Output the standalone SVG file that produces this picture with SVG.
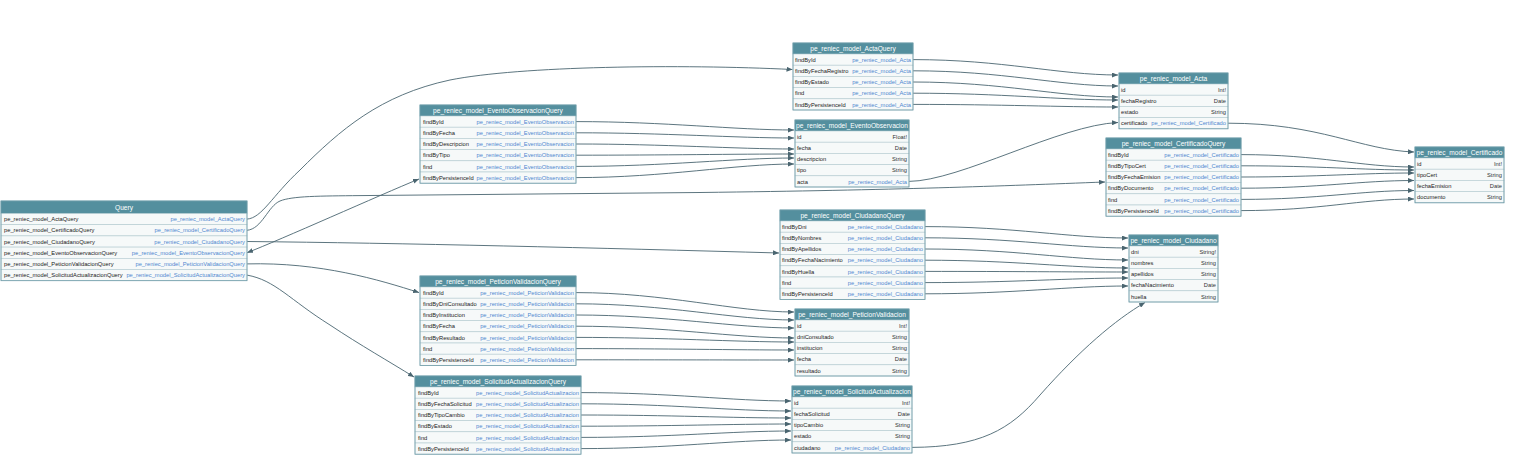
<svg xmlns="http://www.w3.org/2000/svg" width="1524" height="475" viewBox="0 0 1524 475">
<style>
.bg{fill:#ffffff}
.hd{fill:#548f9e;stroke:#548f9e;stroke-width:.6}
.row{fill:#f6f9f9;stroke:#b3cad0;stroke-width:.6}
.frame{fill:none;stroke:#6e9ca8;stroke-width:.8}
.ht{font-family:"Liberation Sans",Arial,sans-serif;font-size:6.6px;fill:#ffffff;text-anchor:middle}
.ft{font-family:"Liberation Sans",Arial,sans-serif;font-size:5.75px;fill:#222222}
.lk{font-family:"Liberation Sans",Arial,sans-serif;font-size:5.75px;fill:#4f87d0;text-anchor:end}
.ty{font-family:"Liberation Sans",Arial,sans-serif;font-size:5.75px;fill:#333333;text-anchor:end}
.edge{fill:none;stroke:#4a6570;stroke-width:.9;marker-end:url(#ah)}
</style>
<defs>
<marker id="ah" markerWidth="6" markerHeight="5" refX="6" refY="2.5" orient="auto" markerUnits="userSpaceOnUse"><path d="M0,0 L6,2.5 L0,5 z" fill="#4a6570"/></marker>
<marker id="ahs" markerWidth="6" markerHeight="5" refX="6" refY="2.5" orient="auto-start-reverse" markerUnits="userSpaceOnUse"><path d="M0,0 L6,2.5 L0,5 z" fill="#4a6570"/></marker>
</defs>
<rect class="bg" x="0" y="0" width="1524" height="475"/>

<g id="connectors">
<path class="edge" d="M247,219.1 C262,218 272,196 300,170 C340,130 380,95 450,80 C520,66 680,64 792.5,69.5"/>
<path class="edge" d="M247,230.3 C262,229 268,206 280,201 C292,196 320,196 360,195.6 L700,192.5 C900,190 1000,186 1105,182"/>
<path class="edge" d="M247,241.5 C400,243 600,248 779,253"/>
<path class="edge" style="marker-start:url(#ahs)" d="M247,252.7 C280,240 380,195 419,179"/>
<path class="edge" d="M247,263.9 C320,262 380,280 419,292.6"/>
<path class="edge" d="M247,275.1 C275,280 290,300 330,325 C360,345 390,362 414,377"/>

<path class="edge" d="M576,121.6 C666,121.6 734,130 794,130"/>
<path class="edge" d="M576,132.8 C666,132.8 734,138 794,138"/>
<path class="edge" d="M576,144 C666,144 734,149 794,149"/>
<path class="edge" d="M576,155.2 C666,155.2 734,154 794,154"/>
<path class="edge" d="M576,166.4 C666,166.4 734,158 794,158"/>
<path class="edge" d="M576,177.6 C666,177.6 734,164 794,164"/>

<path class="edge" d="M913,59.6 C1003,59.6 1058,75 1118,75"/>
<path class="edge" d="M913,70.8 C1003,70.8 1058,86 1118,86"/>
<path class="edge" d="M913,82 C1003,82 1058,97 1118,97"/>
<path class="edge" d="M913,93.2 C1003,93.2 1058,100 1118,100"/>
<path class="edge" d="M913,104.4 C1003,104.4 1058,107 1118,107"/>
<path class="edge" d="M909,181.4 C960,181 1060,125 1118,122.5"/>

<path class="edge" d="M1228,123.2 C1320,123.2 1360,150 1414,152"/>
<path class="edge" d="M1241,154.6 C1320,154.6 1360,167 1414,167"/>
<path class="edge" d="M1241,165.8 C1320,165.8 1360,170 1414,170"/>
<path class="edge" d="M1241,177 C1320,177 1360,173 1414,173"/>
<path class="edge" d="M1241,188.2 C1320,188.2 1360,180.5 1414,180.5"/>
<path class="edge" d="M1241,199.4 C1320,199.4 1360,190.5 1414,190.5"/>
<path class="edge" d="M1241,210.6 C1320,210.6 1360,199 1414,199"/>

<path class="edge" d="M925,226.6 C1015,226.6 1068,238 1128,238"/>
<path class="edge" d="M925,237.8 C1015,237.8 1068,248 1128,248"/>
<path class="edge" d="M925,249 C1015,249 1068,260 1128,260"/>
<path class="edge" d="M925,260.2 C1015,260.2 1068,268 1128,268"/>
<path class="edge" d="M925,271.4 C1015,271.4 1068,272 1128,272"/>
<path class="edge" d="M925,282.6 C1015,282.6 1068,278 1128,278"/>
<path class="edge" d="M925,293.8 C1015,293.8 1068,286 1128,286"/>

<path class="edge" d="M576,292.6 C666,292.6 734,312 794,312"/>
<path class="edge" d="M576,303.8 C666,303.8 734,320 794,320"/>
<path class="edge" d="M576,315 C666,315 734,328 794,328"/>
<path class="edge" d="M576,326.2 C666,326.2 734,338 794,338"/>
<path class="edge" d="M576,337.4 C666,337.4 734,342 794,342"/>
<path class="edge" d="M576,348.6 C666,348.6 734,350 794,350"/>
<path class="edge" d="M576,359.8 C666,359.8 734,360 794,360"/>

<path class="edge" d="M581,392.6 C671,392.6 731,401 791,401"/>
<path class="edge" d="M581,403.8 C671,403.8 731,411 791,411"/>
<path class="edge" d="M581,415 C671,415 731,418 791,418"/>
<path class="edge" d="M581,426.2 C671,426.2 731,424 791,424"/>
<path class="edge" d="M581,437.4 C671,437.4 731,431 791,431"/>
<path class="edge" d="M581,448.6 C671,448.6 731,440 791,440"/>

<path class="edge" d="M912,447.4 C980,447 1010,430 1040,395 C1080,350 1115,320 1145,302.5"/>
</g>

<g id="Query" transform="translate(1,201)">
<rect class="hd" x="0" y="0" width="246" height="12.5"/>
<text class="ht" x="123" y="9">Query</text>
<rect class="row" x="0" y="12.5" width="246" height="11.2"/>
<rect class="row" x="0" y="23.7" width="246" height="11.2"/>
<rect class="row" x="0" y="34.9" width="246" height="11.2"/>
<rect class="row" x="0" y="46.1" width="246" height="11.2"/>
<rect class="row" x="0" y="57.3" width="246" height="11.2"/>
<rect class="row" x="0" y="68.5" width="246" height="11.2"/>
<text class="ft" x="3" y="20.2">pe_reniec_model_ActaQuery</text><text class="lk" x="244" y="20.2">pe_reniec_model_ActaQuery</text>
<text class="ft" x="3" y="31.4">pe_reniec_model_CertificadoQuery</text><text class="lk" x="244" y="31.4">pe_reniec_model_CertificadoQuery</text>
<text class="ft" x="3" y="42.6">pe_reniec_model_CiudadanoQuery</text><text class="lk" x="244" y="42.6">pe_reniec_model_CiudadanoQuery</text>
<text class="ft" x="3" y="53.8">pe_reniec_model_EventoObservacionQuery</text><text class="lk" x="244" y="53.8">pe_reniec_model_EventoObservacionQuery</text>
<text class="ft" x="3" y="65">pe_reniec_model_PeticionValidacionQuery</text><text class="lk" x="244" y="65">pe_reniec_model_PeticionValidacionQuery</text>
<text class="ft" x="3" y="76.2">pe_reniec_model_SolicitudActualizacionQuery</text><text class="lk" x="244" y="76.2">pe_reniec_model_SolicitudActualizacionQuery</text>
<rect class="frame" x="0" y="0" width="246" height="79.7"/>
</g>

<g id="EventoObservacionQuery" transform="translate(420,105)">
<rect class="hd" x="0" y="0" width="156" height="11"/>
<text class="ht" x="78" y="8.2">pe_reniec_model_EventoObservacionQuery</text>
<rect class="row" x="0" y="11" width="156" height="11.2"/>
<rect class="row" x="0" y="22.2" width="156" height="11.2"/>
<rect class="row" x="0" y="33.4" width="156" height="11.2"/>
<rect class="row" x="0" y="44.6" width="156" height="11.2"/>
<rect class="row" x="0" y="55.8" width="156" height="11.2"/>
<rect class="row" x="0" y="67" width="156" height="11.2"/>
<text class="ft" x="3" y="18.7">findById</text><text class="lk" x="154" y="18.7">pe_reniec_model_EventoObservacion</text>
<text class="ft" x="3" y="29.9">findByFecha</text><text class="lk" x="154" y="29.9">pe_reniec_model_EventoObservacion</text>
<text class="ft" x="3" y="41.1">findByDescripcion</text><text class="lk" x="154" y="41.1">pe_reniec_model_EventoObservacion</text>
<text class="ft" x="3" y="52.3">findByTipo</text><text class="lk" x="154" y="52.3">pe_reniec_model_EventoObservacion</text>
<text class="ft" x="3" y="63.5">find</text><text class="lk" x="154" y="63.5">pe_reniec_model_EventoObservacion</text>
<text class="ft" x="3" y="74.7">findByPersistenceId</text><text class="lk" x="154" y="74.7">pe_reniec_model_EventoObservacion</text>
<rect class="frame" x="0" y="0" width="156" height="78.2"/>
</g>

<g id="ActaQuery" transform="translate(793,43)">
<rect class="hd" x="0" y="0" width="120" height="11"/>
<text class="ht" x="60" y="8.2">pe_reniec_model_ActaQuery</text>
<rect class="row" x="0" y="11" width="120" height="11.2"/>
<rect class="row" x="0" y="22.2" width="120" height="11.2"/>
<rect class="row" x="0" y="33.4" width="120" height="11.2"/>
<rect class="row" x="0" y="44.6" width="120" height="11.2"/>
<rect class="row" x="0" y="55.8" width="120" height="11.2"/>
<text class="ft" x="2" y="18.7">findById</text><text class="lk" x="118" y="18.7">pe_reniec_model_Acta</text>
<text class="ft" x="2" y="29.9">findByFechaRegistro</text><text class="lk" x="118" y="29.9">pe_reniec_model_Acta</text>
<text class="ft" x="2" y="41.1">findByEstado</text><text class="lk" x="118" y="41.1">pe_reniec_model_Acta</text>
<text class="ft" x="2" y="52.3">find</text><text class="lk" x="118" y="52.3">pe_reniec_model_Acta</text>
<text class="ft" x="2" y="63.5">findByPersistenceId</text><text class="lk" x="118" y="63.5">pe_reniec_model_Acta</text>
<rect class="frame" x="0" y="0" width="120" height="67"/>
</g>

<g id="EventoObservacion" transform="translate(795,120)">
<rect class="hd" x="0" y="0" width="114" height="11"/>
<text class="ht" x="57" y="8.2">pe_reniec_model_EventoObservacion</text>
<rect class="row" x="0" y="11" width="114" height="11.2"/>
<rect class="row" x="0" y="22.2" width="114" height="11.2"/>
<rect class="row" x="0" y="33.4" width="114" height="11.2"/>
<rect class="row" x="0" y="44.6" width="114" height="11.2"/>
<rect class="row" x="0" y="55.8" width="114" height="11.2"/>
<text class="ft" x="2" y="18.7">id</text><text class="ty" x="112" y="18.7">Float!</text>
<text class="ft" x="2" y="29.9">fecha</text><text class="ty" x="112" y="29.9">Date</text>
<text class="ft" x="2" y="41.1">descripcion</text><text class="ty" x="112" y="41.1">String</text>
<text class="ft" x="2" y="52.3">tipo</text><text class="ty" x="112" y="52.3">String</text>
<text class="ft" x="2" y="63.5">acta</text><text class="lk" x="112" y="63.5">pe_reniec_model_Acta</text>
<rect class="frame" x="0" y="0" width="114" height="67"/>
</g>

<g id="Acta" transform="translate(1119,73)">
<rect class="hd" x="0" y="0" width="109" height="11"/>
<text class="ht" x="54.5" y="8.2">pe_reniec_model_Acta</text>
<rect class="row" x="0" y="11" width="109" height="11.2"/>
<rect class="row" x="0" y="22.2" width="109" height="11.2"/>
<rect class="row" x="0" y="33.4" width="109" height="11.2"/>
<rect class="row" x="0" y="44.6" width="109" height="11.2"/>
<text class="ft" x="2" y="18.7">id</text><text class="ty" x="107" y="18.7">Int!</text>
<text class="ft" x="2" y="29.9">fechaRegistro</text><text class="ty" x="107" y="29.9">Date</text>
<text class="ft" x="2" y="41.1">estado</text><text class="ty" x="107" y="41.1">String</text>
<text class="ft" x="2" y="52.3">certificado</text><text class="lk" x="107" y="52.3">pe_reniec_model_Certificado</text>
<rect class="frame" x="0" y="0" width="109" height="55.8"/>
</g>

<g id="CertificadoQuery" transform="translate(1106,138)">
<rect class="hd" x="0" y="0" width="135" height="11"/>
<text class="ht" x="67.5" y="8.2">pe_reniec_model_CertificadoQuery</text>
<rect class="row" x="0" y="11" width="135" height="11.2"/>
<rect class="row" x="0" y="22.2" width="135" height="11.2"/>
<rect class="row" x="0" y="33.4" width="135" height="11.2"/>
<rect class="row" x="0" y="44.6" width="135" height="11.2"/>
<rect class="row" x="0" y="55.8" width="135" height="11.2"/>
<rect class="row" x="0" y="67" width="135" height="11.2"/>
<text class="ft" x="2" y="18.7">findById</text><text class="lk" x="133" y="18.7">pe_reniec_model_Certificado</text>
<text class="ft" x="2" y="29.9">findByTipoCert</text><text class="lk" x="133" y="29.9">pe_reniec_model_Certificado</text>
<text class="ft" x="2" y="41.1">findByFechaEmision</text><text class="lk" x="133" y="41.1">pe_reniec_model_Certificado</text>
<text class="ft" x="2" y="52.3">findByDocumento</text><text class="lk" x="133" y="52.3">pe_reniec_model_Certificado</text>
<text class="ft" x="2" y="63.5">find</text><text class="lk" x="133" y="63.5">pe_reniec_model_Certificado</text>
<text class="ft" x="2" y="74.7">findByPersistenceId</text><text class="lk" x="133" y="74.7">pe_reniec_model_Certificado</text>
<rect class="frame" x="0" y="0" width="135" height="78.2"/>
</g>

<g id="Certificado" transform="translate(1415,147)">
<rect class="hd" x="0" y="0" width="89" height="11"/>
<text class="ht" x="44.5" y="8.2">pe_reniec_model_Certificado</text>
<rect class="row" x="0" y="11" width="89" height="11.2"/>
<rect class="row" x="0" y="22.2" width="89" height="11.2"/>
<rect class="row" x="0" y="33.4" width="89" height="11.2"/>
<rect class="row" x="0" y="44.6" width="89" height="11.2"/>
<text class="ft" x="2" y="18.7">id</text><text class="ty" x="87" y="18.7">Int!</text>
<text class="ft" x="2" y="29.9">tipoCert</text><text class="ty" x="87" y="29.9">String</text>
<text class="ft" x="2" y="41.1">fechaEmision</text><text class="ty" x="87" y="41.1">Date</text>
<text class="ft" x="2" y="52.3">documento</text><text class="ty" x="87" y="52.3">String</text>
<rect class="frame" x="0" y="0" width="89" height="55.8"/>
</g>

<g id="CiudadanoQuery" transform="translate(780,210)">
<rect class="hd" x="0" y="0" width="145" height="11"/>
<text class="ht" x="72.5" y="8.2">pe_reniec_model_CiudadanoQuery</text>
<rect class="row" x="0" y="11" width="145" height="11.2"/>
<rect class="row" x="0" y="22.2" width="145" height="11.2"/>
<rect class="row" x="0" y="33.4" width="145" height="11.2"/>
<rect class="row" x="0" y="44.6" width="145" height="11.2"/>
<rect class="row" x="0" y="55.8" width="145" height="11.2"/>
<rect class="row" x="0" y="67" width="145" height="11.2"/>
<rect class="row" x="0" y="78.2" width="145" height="11.2"/>
<text class="ft" x="2" y="18.7">findByDni</text><text class="lk" x="143" y="18.7">pe_reniec_model_Ciudadano</text>
<text class="ft" x="2" y="29.9">findByNombres</text><text class="lk" x="143" y="29.9">pe_reniec_model_Ciudadano</text>
<text class="ft" x="2" y="41.1">findByApellidos</text><text class="lk" x="143" y="41.1">pe_reniec_model_Ciudadano</text>
<text class="ft" x="2" y="52.3">findByFechaNacimiento</text><text class="lk" x="143" y="52.3">pe_reniec_model_Ciudadano</text>
<text class="ft" x="2" y="63.5">findByHuella</text><text class="lk" x="143" y="63.5">pe_reniec_model_Ciudadano</text>
<text class="ft" x="2" y="74.7">find</text><text class="lk" x="143" y="74.7">pe_reniec_model_Ciudadano</text>
<text class="ft" x="2" y="85.9">findByPersistenceId</text><text class="lk" x="143" y="85.9">pe_reniec_model_Ciudadano</text>
<rect class="frame" x="0" y="0" width="145" height="89.4"/>
</g>

<g id="Ciudadano" transform="translate(1129,235)">
<rect class="hd" x="0" y="0" width="89" height="11"/>
<text class="ht" x="44.5" y="8.2">pe_reniec_model_Ciudadano</text>
<rect class="row" x="0" y="11" width="89" height="11.2"/>
<rect class="row" x="0" y="22.2" width="89" height="11.2"/>
<rect class="row" x="0" y="33.4" width="89" height="11.2"/>
<rect class="row" x="0" y="44.6" width="89" height="11.2"/>
<rect class="row" x="0" y="55.8" width="89" height="11.2"/>
<text class="ft" x="2" y="18.7">dni</text><text class="ty" x="87" y="18.7">String!</text>
<text class="ft" x="2" y="29.9">nombres</text><text class="ty" x="87" y="29.9">String</text>
<text class="ft" x="2" y="41.1">apellidos</text><text class="ty" x="87" y="41.1">String</text>
<text class="ft" x="2" y="52.3">fechaNacimiento</text><text class="ty" x="87" y="52.3">Date</text>
<text class="ft" x="2" y="63.5">huella</text><text class="ty" x="87" y="63.5">String</text>
<rect class="frame" x="0" y="0" width="89" height="67"/>
</g>

<g id="PeticionValidacionQuery" transform="translate(420,276)">
<rect class="hd" x="0" y="0" width="156" height="11"/>
<text class="ht" x="78" y="8.2">pe_reniec_model_PeticionValidacionQuery</text>
<rect class="row" x="0" y="11" width="156" height="11.2"/>
<rect class="row" x="0" y="22.2" width="156" height="11.2"/>
<rect class="row" x="0" y="33.4" width="156" height="11.2"/>
<rect class="row" x="0" y="44.6" width="156" height="11.2"/>
<rect class="row" x="0" y="55.8" width="156" height="11.2"/>
<rect class="row" x="0" y="67" width="156" height="11.2"/>
<rect class="row" x="0" y="78.2" width="156" height="11.2"/>
<text class="ft" x="3" y="18.7">findById</text><text class="lk" x="154" y="18.7">pe_reniec_model_PeticionValidacion</text>
<text class="ft" x="3" y="29.9">findByDniConsultado</text><text class="lk" x="154" y="29.9">pe_reniec_model_PeticionValidacion</text>
<text class="ft" x="3" y="41.1">findByInstitucion</text><text class="lk" x="154" y="41.1">pe_reniec_model_PeticionValidacion</text>
<text class="ft" x="3" y="52.3">findByFecha</text><text class="lk" x="154" y="52.3">pe_reniec_model_PeticionValidacion</text>
<text class="ft" x="3" y="63.5">findByResultado</text><text class="lk" x="154" y="63.5">pe_reniec_model_PeticionValidacion</text>
<text class="ft" x="3" y="74.7">find</text><text class="lk" x="154" y="74.7">pe_reniec_model_PeticionValidacion</text>
<text class="ft" x="3" y="85.9">findByPersistenceId</text><text class="lk" x="154" y="85.9">pe_reniec_model_PeticionValidacion</text>
<rect class="frame" x="0" y="0" width="156" height="89.4"/>
</g>

<g id="PeticionValidacion" transform="translate(795,309)">
<rect class="hd" x="0" y="0" width="114" height="11"/>
<text class="ht" x="57" y="8.2">pe_reniec_model_PeticionValidacion</text>
<rect class="row" x="0" y="11" width="114" height="11.2"/>
<rect class="row" x="0" y="22.2" width="114" height="11.2"/>
<rect class="row" x="0" y="33.4" width="114" height="11.2"/>
<rect class="row" x="0" y="44.6" width="114" height="11.2"/>
<rect class="row" x="0" y="55.8" width="114" height="11.2"/>
<text class="ft" x="2" y="18.7">id</text><text class="ty" x="112" y="18.7">Int!</text>
<text class="ft" x="2" y="29.9">dniConsultado</text><text class="ty" x="112" y="29.9">String</text>
<text class="ft" x="2" y="41.1">institucion</text><text class="ty" x="112" y="41.1">String</text>
<text class="ft" x="2" y="52.3">fecha</text><text class="ty" x="112" y="52.3">Date</text>
<text class="ft" x="2" y="63.5">resultado</text><text class="ty" x="112" y="63.5">String</text>
<rect class="frame" x="0" y="0" width="114" height="67"/>
</g>

<g id="SolicitudActualizacionQuery" transform="translate(415,376)">
<rect class="hd" x="0" y="0" width="166" height="11"/>
<text class="ht" x="83" y="8.2">pe_reniec_model_SolicitudActualizacionQuery</text>
<rect class="row" x="0" y="11" width="166" height="11.2"/>
<rect class="row" x="0" y="22.2" width="166" height="11.2"/>
<rect class="row" x="0" y="33.4" width="166" height="11.2"/>
<rect class="row" x="0" y="44.6" width="166" height="11.2"/>
<rect class="row" x="0" y="55.8" width="166" height="11.2"/>
<rect class="row" x="0" y="67" width="166" height="11.2"/>
<text class="ft" x="3" y="18.7">findById</text><text class="lk" x="164" y="18.7">pe_reniec_model_SolicitudActualizacion</text>
<text class="ft" x="3" y="29.9">findByFechaSolicitud</text><text class="lk" x="164" y="29.9">pe_reniec_model_SolicitudActualizacion</text>
<text class="ft" x="3" y="41.1">findByTipoCambio</text><text class="lk" x="164" y="41.1">pe_reniec_model_SolicitudActualizacion</text>
<text class="ft" x="3" y="52.3">findByEstado</text><text class="lk" x="164" y="52.3">pe_reniec_model_SolicitudActualizacion</text>
<text class="ft" x="3" y="63.5">find</text><text class="lk" x="164" y="63.5">pe_reniec_model_SolicitudActualizacion</text>
<text class="ft" x="3" y="74.7">findByPersistenceId</text><text class="lk" x="164" y="74.7">pe_reniec_model_SolicitudActualizacion</text>
<rect class="frame" x="0" y="0" width="166" height="78.2"/>
</g>

<g id="SolicitudActualizacion" transform="translate(792,386)">
<rect class="hd" x="0" y="0" width="120" height="11"/>
<text class="ht" x="60" y="8.2">pe_reniec_model_SolicitudActualizacion</text>
<rect class="row" x="0" y="11" width="120" height="11.2"/>
<rect class="row" x="0" y="22.2" width="120" height="11.2"/>
<rect class="row" x="0" y="33.4" width="120" height="11.2"/>
<rect class="row" x="0" y="44.6" width="120" height="11.2"/>
<rect class="row" x="0" y="55.8" width="120" height="11.2"/>
<text class="ft" x="2" y="18.7">id</text><text class="ty" x="118" y="18.7">Int!</text>
<text class="ft" x="2" y="29.9">fechaSolicitud</text><text class="ty" x="118" y="29.9">Date</text>
<text class="ft" x="2" y="41.1">tipoCambio</text><text class="ty" x="118" y="41.1">String</text>
<text class="ft" x="2" y="52.3">estado</text><text class="ty" x="118" y="52.3">String</text>
<text class="ft" x="2" y="63.5">ciudadano</text><text class="lk" x="118" y="63.5">pe_reniec_model_Ciudadano</text>
<rect class="frame" x="0" y="0" width="120" height="67"/>
</g>
</svg>
